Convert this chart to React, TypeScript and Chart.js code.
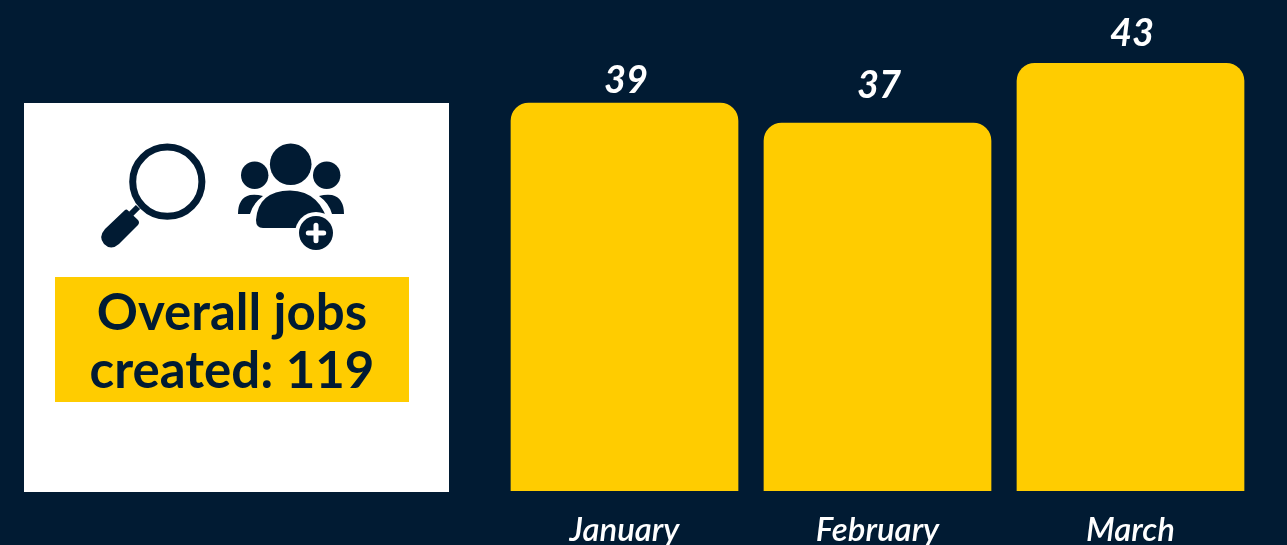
import React, { useEffect, useRef } from "react";
import { Chart, registerables } from "chart.js";

Chart.register(...registerables);

const months = ["January", "February", "March"];
const jobsCreated = [39, 37, 43];
const labelGaps = [10, 25, 17];
const totalLabel = ["Overall jobs", "created: 119"];

const NAVY = "#011b33";
const GOLD = "#ffcc00";
const FONT = "Lato, 'Open Sans', sans-serif";

// Writes each month's value above its bar.
const valueLabels = {
  id: "valueLabels",
  afterDatasetsDraw(chart: any) {
    const { ctx } = chart;
    const meta = chart.getDatasetMeta(0);
    ctx.save();
    ctx.fillStyle = "#ffffff";
    ctx.font = `italic 700 38px ${FONT}`;
    ctx.textAlign = "center";
    ctx.textBaseline = "alphabetic";
    meta.data.forEach((bar: any, i: number) => {
      ctx.fillText(String(jobsCreated[i]), bar.x + 1.5, bar.y - labelGaps[i]);
    });
    ctx.restore();
  },
};

function SearchAndPeopleIcons() {
  return (
    <svg
      width={1287}
      height={545}
      style={{ position: "absolute", left: 0, top: 0, pointerEvents: "none" }}
    >
      {/* magnifying glass */}
      <circle cx={167.3} cy={181.7} r={34.6} fill="none" stroke={NAVY} strokeWidth={7} />
      <path d="M138 207 L131 214" stroke={NAVY} strokeWidth={6} />
      <path
        d="M125 210 Q126.5 209 128 210.5 L138 220 Q140 222.5 138 225 L119 244 Q111 251 104 244 Q98 237 105 229 Z"
        fill={NAVY}
      />
      {/* group of people */}
      <circle cx={290.7} cy={164.3} r={20.8} fill={NAVY} />
      <circle cx={254.7} cy={175.3} r={13.7} fill={NAVY} />
      <circle cx={326.7} cy={175.3} r={13.7} fill={NAVY} />
      <path d="M238 214 Q238 198 250 195 Q256 194 263 196 Q253 203 250 214 Z" fill={NAVY} />
      <path d="M344 214 Q344 198 332 195 Q326 194 319 196 Q329 203 332 214 Z" fill={NAVY} />
      <path
        d="M256 220 Q258 191 290 190.5 Q322 191 329 228 L263 228 Q256 228 256 220 Z"
        fill={NAVY}
      />
      <circle cx={316} cy={233} r={21} fill="#ffffff" />
      <circle cx={316} cy={233} r={17} fill={NAVY} />
      <path d="M316 225.3 V240.7 M308.3 233 H323.7" stroke="#ffffff" strokeWidth={5} strokeLinecap="round" />
    </svg>
  );
}

export default function App() {
  const canvasRef = useRef<HTMLCanvasElement | null>(null);

  useEffect(() => {
    const chart = new Chart(canvasRef.current as HTMLCanvasElement, {
      type: "bar",
      data: {
        labels: months,
        datasets: [
          {
            data: jobsCreated,
            backgroundColor: GOLD,
            borderWidth: 0,
            borderSkipped: "bottom",
            borderRadius: { topLeft: 18, topRight: 18, bottomLeft: 0, bottomRight: 0 },
            barPercentage: 0.9,
            categoryPercentage: 1,
          },
        ],
      },
      options: {
        animation: false,
        responsive: false,
        layout: { padding: { left: 498, right: 30, top: 43, bottom: 0 } },
        plugins: { legend: { display: false }, tooltip: { enabled: false } },
        scales: {
          x: {
            border: { display: false },
            grid: { display: false, drawTicks: false },
            afterFit(scale: any) {
              scale.height = 54;
            },
            ticks: {
              color: "#ffffff",
              padding: 20,
              maxRotation: 0,
              autoSkip: false,
              font: { family: FONT, size: 33, style: "italic", weight: "600" },
            },
          },
          y: { display: false, min: 0, max: 45 },
        },
      },
      plugins: [valueLabels],
    } as any);
    return () => chart.destroy();
  }, []);

  return (
    <div
      style={{
        position: "fixed",
        left: 0,
        top: 0,
        width: 1287,
        height: 545,
        overflow: "hidden",
        background: NAVY,
      }}
    >
      <canvas ref={canvasRef} width={1287} height={545} style={{ position: "absolute", left: 0, top: 0 }} />
      <div style={{ position: "absolute", left: 24, top: 103, width: 425, height: 389, background: "#ffffff" }} />
      <div
        style={{
          position: "absolute",
          left: 55,
          top: 277,
          width: 354,
          height: 125,
          background: GOLD,
          color: NAVY,
          font: `700 51px/58px ${FONT}`,
          textAlign: "center",
          paddingTop: 5,
          boxSizing: "border-box",
        }}
      >
        {totalLabel.map((line) => (
          <div key={line}>{line}</div>
        ))}
      </div>
      <SearchAndPeopleIcons />
    </div>
  );
}
